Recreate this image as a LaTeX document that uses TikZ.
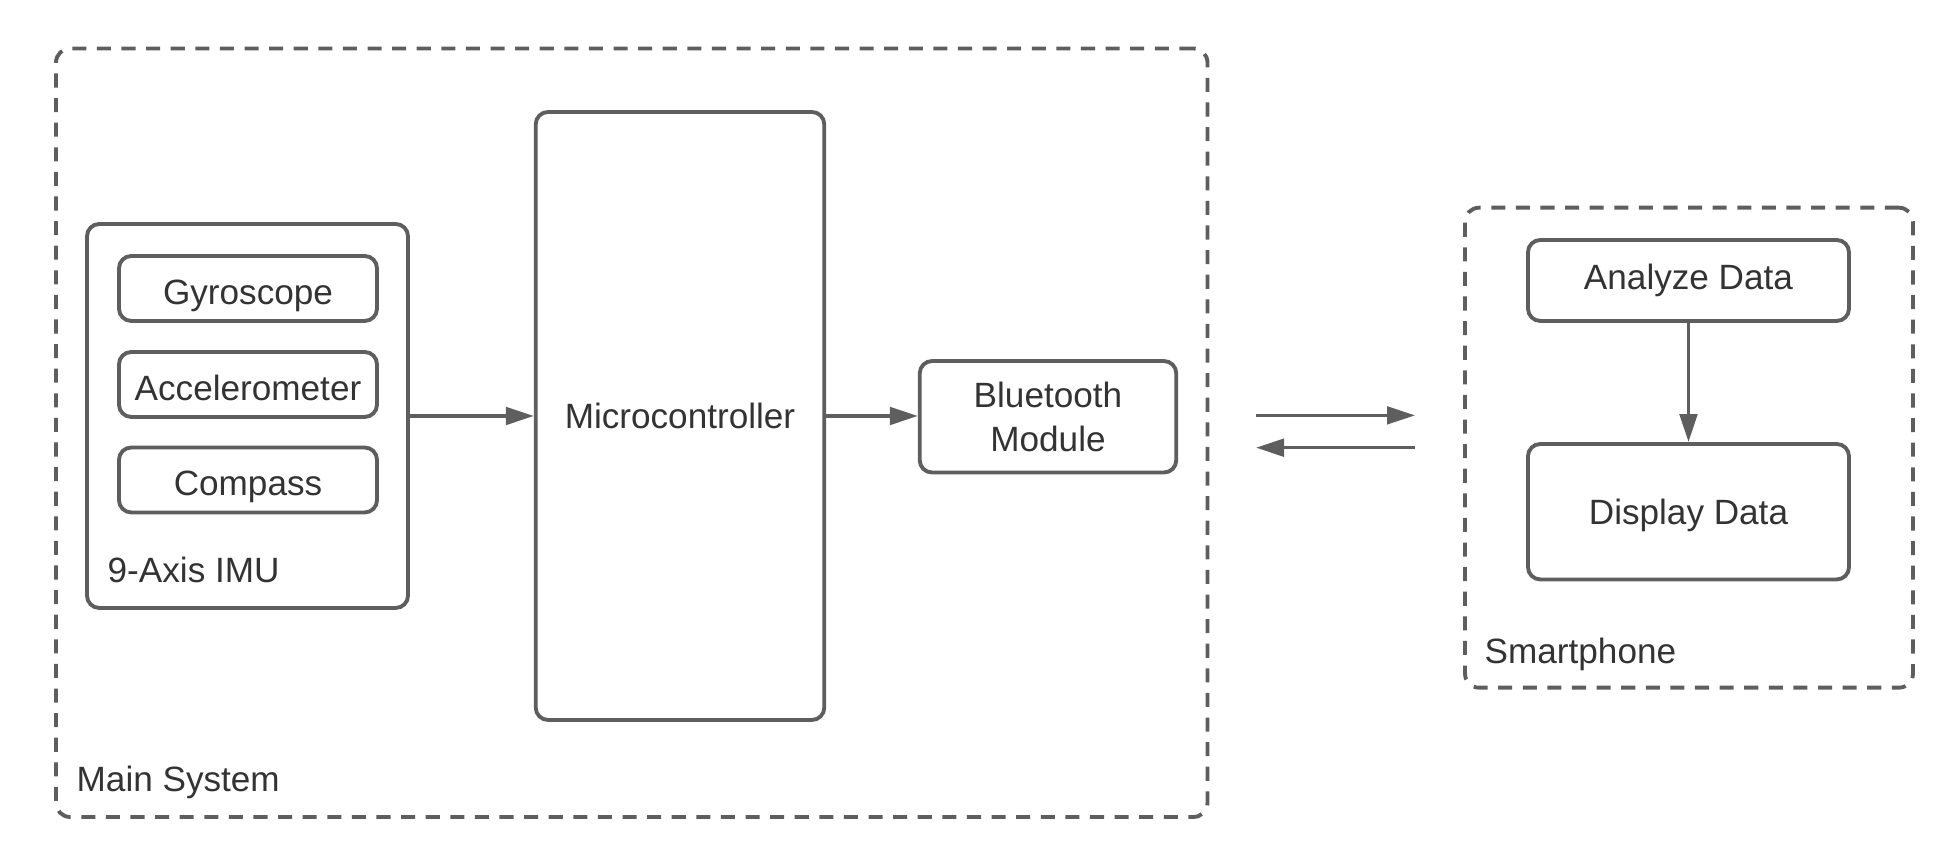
\documentclass[tikz,border=0pt]{standalone}
\usepackage{fontspec}
\setmainfont{Liberation Sans}
\usetikzlibrary{positioning, arrows.meta, calc}
\definecolor{mLine}{HTML}{5E5E5E}
\definecolor{mText}{HTML}{333333}

\begin{document}
\begin{tikzpicture}[
  every node/.style={font=\fontsize{10}{12.4}\selectfont, text=mText},
  block/.style={draw=mLine, line width=1.1pt, rounded corners=3.5pt,
                inner sep=0pt, align=center},
  sensor/.style={block, minimum width=2.58cm, minimum height=0.65cm,
                 text height=0.9em, text depth=0pt},
  group/.style={draw=mLine, line width=1.1pt, rounded corners=4pt,
                dash pattern=on 4pt off 3pt, inner sep=0pt},
  caption/.style={anchor=west, inner sep=0pt},
  link/.style={draw=mLine, line width=1pt,
               -{Triangle[length=2.8mm, width=1.75mm]}},
  >=Stealth,
]
  \useasboundingbox (0,0) rectangle (19.5,8.64);

  % Main system
  \node[group, minimum width=11.515cm, minimum height=7.685cm] (main) at (6.3175,4.3125) {};
  \node[caption] (mainlbl) at (0.76,0.815) {Main System};

  % 9-axis IMU
  \node[block, minimum width=3.21cm, minimum height=3.84cm] (imu) at (2.475,4.48) {};
  \node[caption] (imulbl) at (1.07,2.94) {9-Axis IMU};
  \node[sensor] (gyro) at (2.48,5.755) {Gyroscope};
  \node[sensor] (accel) at (2.48,4.795) {Accelerometer};
  \node[sensor] (compass) at (2.48,3.84) {Compass};

  % Microcontroller and Bluetooth
  \node[block, minimum width=2.885cm, minimum height=6.08cm] (mcu) at (6.80,4.48) {Microcontroller};
  \node[block, minimum width=2.565cm, minimum height=1.115cm] (bt) at (10.48,4.472) {Bluetooth\\Module};

  \draw[link] (imu.east) -- (mcu.west);
  \draw[link] (mcu.east) -- (mcu.east -| bt.west);

  % Wireless link
  \coordinate (txA) at (12.56,4.486);
  \coordinate (txB) at (14.15,4.486);
  \coordinate (rxA) at (14.15,4.163);
  \coordinate (rxB) at (12.56,4.163);
  \draw[link] (txA) -- (txB);
  \draw[link] (rxA) -- (rxB);

  % Smartphone
  \node[group, minimum width=4.48cm, minimum height=4.80cm] (phone) at (16.89,4.163) {};
  \node[caption] (phonelbl) at (14.84,2.10) {Smartphone};
  \node[block, minimum width=3.21cm, minimum height=0.81cm] (analyze) at (16.885,5.835) {Analyze Data};
  \node[block, minimum width=3.21cm, minimum height=1.355cm,
        text height=0.72em, text depth=0pt] (display) at (16.885,3.5225) {Display Data};

  \draw[link] (analyze.south) -- (display.north);
\end{tikzpicture}
\end{document}
